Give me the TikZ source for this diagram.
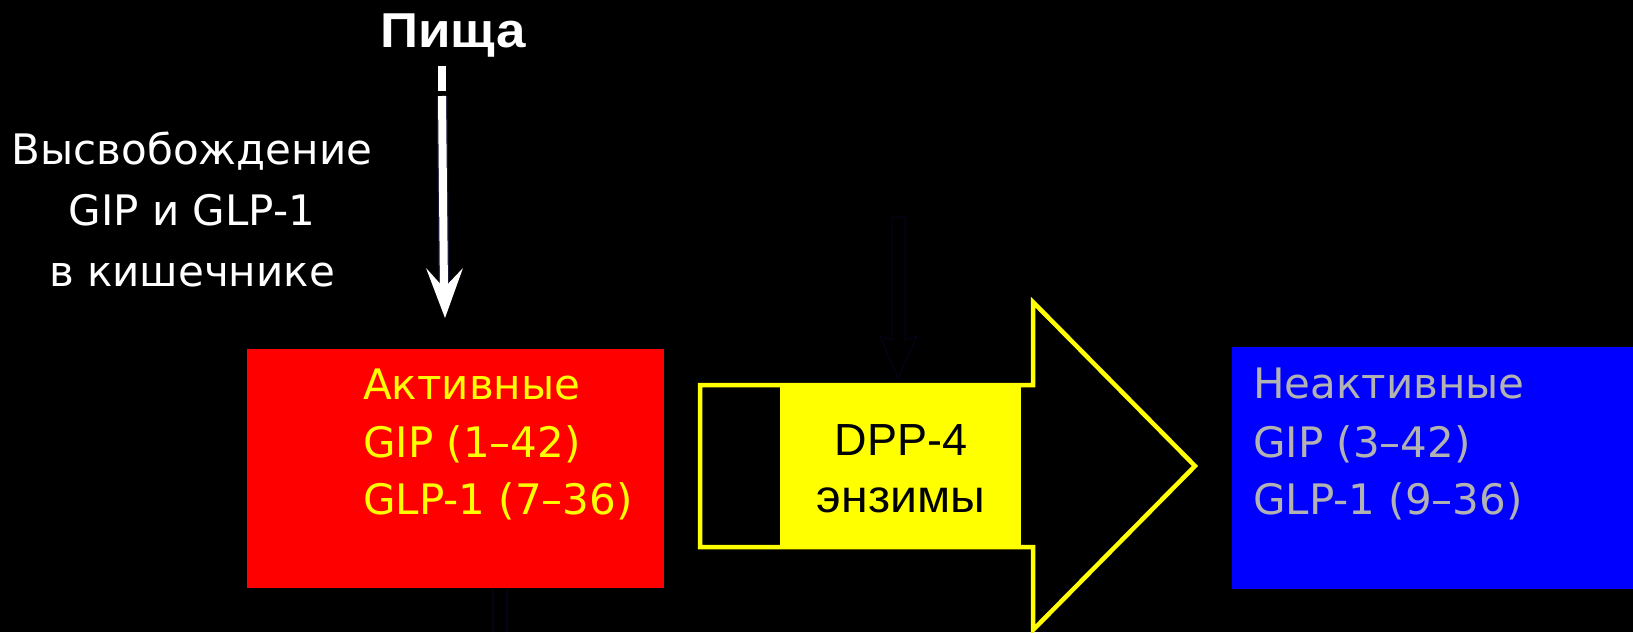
\documentclass[tikz,border=0pt]{standalone}
\usepackage{fontspec}
\setmainfont{DejaVu Sans}
\newfontfamily\arialf{Liberation Sans}
\newfontfamily\widef[FakeStretch=1.08]{Liberation Sans}
\newfontfamily\enzf[FakeStretch=1.05]{Liberation Sans}
\definecolor{ggrey}{RGB}{178,178,178}
\definecolor{navyfaint}{RGB}{4,4,24}
\definecolor{glow}{RGB}{25,25,60}
\definecolor{yel}{RGB}{255,255,0}
\definecolor{rd}{RGB}{255,0,0}
\definecolor{bl}{RGB}{0,0,255}
\begin{document}
\begin{tikzpicture}[x=1pt,y=-1pt,
  txt/.style={inner sep=0pt,font=\fontsize{42}{42}\selectfont},
  lefttxt/.style={txt,white,anchor=base},
  acttxt/.style={txt,yel,anchor=base west},
  inacttxt/.style={txt,ggrey,anchor=base west},
  enztxt/.style={inner sep=0pt,black,anchor=base},
  foodtxt/.style={inner sep=0pt,white,anchor=base,font=\widef\bfseries\fontsize{49}{49}\selectfont},
  box/.style={draw=none,anchor=north west,inner sep=0pt},
  faint/.style={draw=navyfaint,line width=1.2pt}]
\useasboundingbox[fill=black] (0,0) rectangle (1633,632);

% faint hidden arrows
\draw[faint,line join=miter] (892,217) -- (905,217) -- (905,340) -- (917,336) -- (898,378) -- (880,336) -- (892,340) -- cycle;
\draw[faint] (493,590) -- (493,632);
\draw[faint] (507,590) -- (507,632);

% boxes
\node[box,fill=rd,minimum width=417pt,minimum height=239pt] (act) at (247,349) {};
\node[box,fill=bl,minimum width=401pt,minimum height=242pt] (inact) at (1232,347) {};

% big arrow
\draw[yel,line width=4.5pt,line join=miter] (700,385) -- (1033,385) -- (1033,302) -- (1195,466) -- (1033,630) -- (1033,547) -- (700,547) -- cycle;
\node[box,fill=yel,minimum width=241pt,minimum height=162pt] (enz) at (780,385) {};

% food and white arrow
\node[foodtxt] (food) at (453,47) {Пища};
\coordinate (dashA) at (442,66);
\coordinate (dashB) at (442,91);
\draw[white,line width=8pt] (dashA) -- (dashB);
\coordinate (ws) at (442,96);
\coordinate (we) at (444,290);
\coordinate (wtip) at (445,318);
\draw[glow,line width=10.5pt] (ws) -- (we);
\draw[white,line width=8pt] (ws) -- (we);
\fill[white] (wtip) -- (463,268) -- (444,288) -- (426,268) -- cycle;

% left text
\node[lefttxt] (l1) at (192,164) {Высвобождение};
\node[lefttxt] (l2) at (192,225) {GIP и GLP-1};
\node[lefttxt] (l3) at (192,286) {в кишечнике};

% active text
\node[acttxt] (a1) at (363,399) {Активные};
\node[acttxt] (a2) at (363,457) {GIP (1–42)};
\node[acttxt] (a3) at (363,514) {GLP-1 (7–36)};

% inactive text
\node[inacttxt] (i1) at (1253,398) {Неактивные};
\node[inacttxt] (i2) at (1253,457) {GIP (3–42)};
\node[inacttxt] (i3) at (1253,514) {GLP-1 (9–36)};

% enzyme text
\node[enztxt,font=\arialf\fontsize{45}{45}\selectfont] (e1) at (901,455) {DPP-4};
\node[enztxt,font=\enzf\fontsize{46}{46}\selectfont] (e2) at (901,512) {энзимы};
\end{tikzpicture}
\end{document}
